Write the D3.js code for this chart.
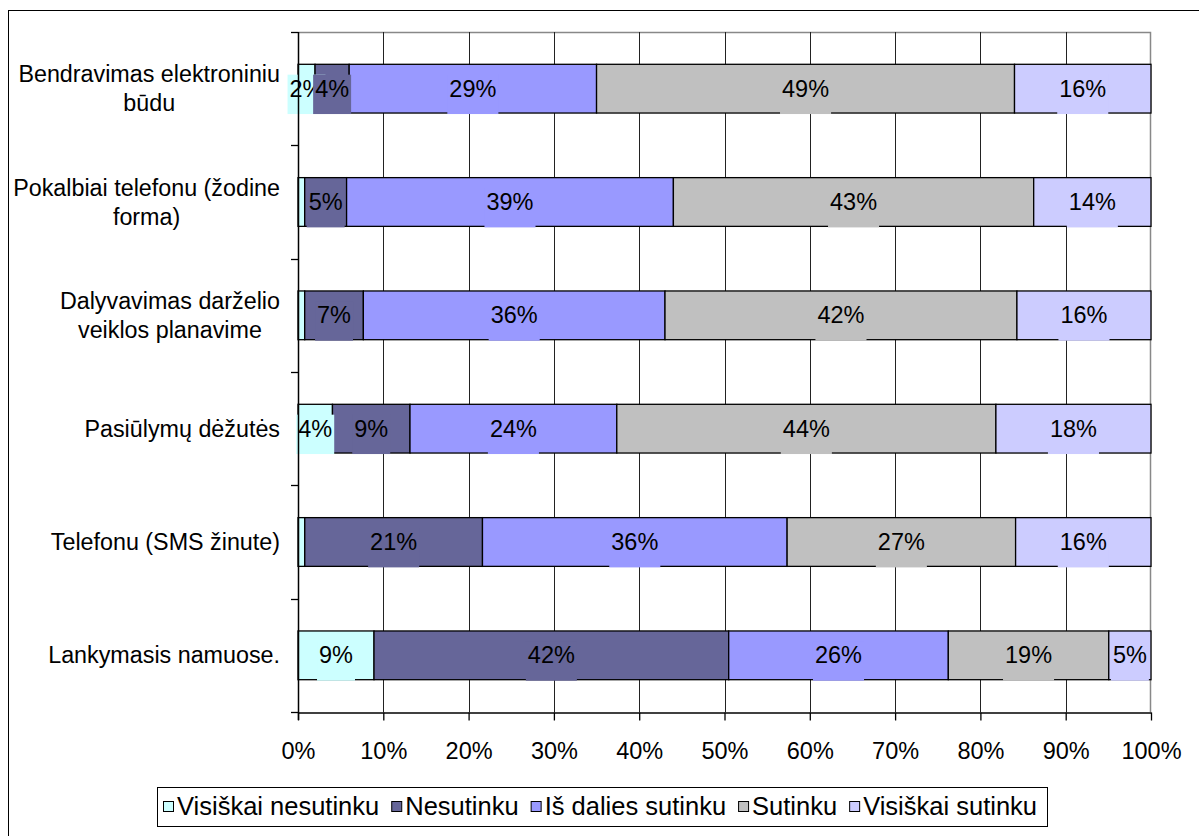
<!DOCTYPE html>
<html>
<head>
<meta charset="utf-8">
<script src="https://cdn.jsdelivr.net/npm/d3@7/dist/d3.min.js"></script>
<style>
  body { margin: 0; background: #fff; }
  svg text { font-family: "Liberation Sans", Arial, sans-serif; }
</style>
</head>
<body>
<svg id="chart" width="1199" height="836"></svg>
<script>
// ---- data ----
const categories = [
  ["Bendravimas elektroniniu", "būdu"],
  ["Pokalbiai telefonu (žodine", "forma)"],
  ["Dalyvavimas darželio", "veiklos planavime"],
  ["Pasiūlymų dėžutės"],
  ["Telefonu (SMS žinute)"],
  ["Lankymasis namuose."]
];
const seriesNames = ["Visiškai nesutinku", "Nesutinku", "Iš dalies sutinku", "Sutinku", "Visiškai sutinku"];
const seriesColors = ["#CCFFFF", "#666699", "#9999FF", "#C0C0C0", "#CCCCFF"];
const visiskaiNesutinku = [2, 0.8, 0.8, 4, 0.8, 9];
const nesutinku = [4, 5, 7, 9, 21, 42];
const isDaliesSutinku = [29, 39, 36, 24, 36, 26];
const sutinku = [49, 43, 42, 44, 27, 19];
const visiskaiSutinku = [16, 14, 16, 18, 16, 5];
// which small segments carry no data label
const showLabel = [
  [true, true, true, true, true],
  [false, true, true, true, true],
  [false, true, true, true, true],
  [true, true, true, true, true],
  [false, true, true, true, true],
  [true, true, true, true, true]
];
const xTicks = [0, 0.1, 0.2, 0.3, 0.4, 0.5, 0.6, 0.7, 0.8, 0.9, 1.0];

const seriesValues = [visiskaiNesutinku, nesutinku, isDaliesSutinku, sutinku, visiskaiSutinku];
const rows = categories.map((c, i) => {
  const r = { idx: i };
  seriesNames.forEach((s, k) => r[s] = seriesValues[k][i]);
  return r;
});

const FS = 23.5;

// ---- layout ----
const svg = d3.select("#chart");
const plot = { left: 298, right: 1151, top: 32, bottom: 712 };

// outer frame
svg.append("rect").attr("x", 8.5).attr("y", 10.5).attr("width", 1200).attr("height", 840)
  .attr("fill", "none").attr("stroke", "#000").attr("stroke-width", 1);

const x = d3.scaleLinear().domain([0, 1]).range([plot.left, plot.right]);
const y = d3.scaleBand().domain(d3.range(categories.length)).range([plot.top, plot.bottom])
  .paddingInner(0.57).paddingOuter(0.285);
const yOuter = d3.scaleBand().domain(d3.range(categories.length)).range([plot.top, plot.bottom]);

// plot frame (top & right gray)
svg.append("path")
  .attr("d", `M${plot.left},${plot.top + 0.5}H${plot.right - 0.5}V${plot.bottom}`)
  .attr("fill", "none").attr("stroke", "#888").attr("stroke-width", 1.5);

// gridlines
svg.append("g").selectAll("line").data(xTicks.slice(1, -1)).join("line")
  .attr("x1", d => Math.round(x(d)) + 0.5).attr("x2", d => Math.round(x(d)) + 0.5)
  .attr("y1", plot.top).attr("y2", plot.bottom)
  .attr("stroke", "#222").attr("stroke-width", 1);

// stacked bars (100% stacked)
const stack = d3.stack().keys(seriesNames).offset(d3.stackOffsetExpand);
const stacked = stack(rows);

const gBars = svg.append("g");
stacked.forEach((layer, k) => {
  gBars.append("g").selectAll("rect").data(layer).join("rect")
    .attr("x", d => x(d[0]))
    .attr("y", (d, i) => y(i))
    .attr("width", d => x(d[1]) - x(d[0]))
    .attr("height", y.bandwidth())
    .attr("fill", seriesColors[k])
    .attr("stroke", "#000").attr("stroke-width", 1.3);
});

// data labels
const gLab = svg.append("g");
stacked.forEach((layer, k) => {
  layer.forEach((d, i) => {
    if (!showLabel[i][k]) return;
    const cx = (x(d[0]) + x(d[1])) / 2;
    const cy = y(i) + y.bandwidth() / 2;
    const txt = seriesValues[k][i] + "%";
    const g = gLab.append("g");
    const bg = g.append("rect");
    const t = g.append("text").attr("x", cx).attr("y", cy + 8)
      .attr("text-anchor", "middle").attr("font-size", FS).attr("fill", "#000").text(txt);
    const w = t.node().getComputedTextLength();
    bg.attr("x", cx - w / 2 - 2).attr("y", cy - 14).attr("width", w + 4)
      .attr("height", y.bandwidth() / 2 + 15).attr("fill", seriesColors[k]);
  });
});

// y axis line + ticks at category boundaries
svg.append("line").attr("x1", plot.left + 0.5).attr("x2", plot.left + 0.5)
  .attr("y1", plot.top).attr("y2", plot.bottom + 8)
  .attr("stroke", "#000").attr("stroke-width", 1.5);
svg.append("g").selectAll("line").data(d3.range(categories.length + 1)).join("line")
  .attr("x1", plot.left - 7).attr("x2", plot.left)
  .attr("y1", i => Math.round(plot.top + i * yOuter.step()) + 0.5)
  .attr("y2", i => Math.round(plot.top + i * yOuter.step()) + 0.5)
  .attr("stroke", "#000").attr("stroke-width", 1.3);

// x axis
const xAxis = d3.axisBottom(x).tickValues(xTicks).tickFormat(d => Math.round(d * 100) + "%")
  .tickSize(8).tickSizeOuter(0);
const gx = svg.append("g").attr("transform", `translate(0,${plot.bottom + 0.5})`).call(xAxis);
gx.select(".domain").attr("stroke", "#000").attr("stroke-width", 1.5);
gx.selectAll(".tick line").attr("stroke", "#000").attr("stroke-width", 1.3);
gx.selectAll(".tick text").attr("font-size", FS).attr("font-family", "Liberation Sans, Arial, sans-serif")
  .attr("fill", "#000").attr("dy", "0").attr("y", 46);

// category labels
const gCat = svg.append("g");
categories.forEach((lines, i) => {
  const cy = y(i) + y.bandwidth() / 2;
  const lh = 29;
  const texts = lines.map((ln, j) => gCat.append("text")
    .attr("font-size", 23.3).attr("fill", "#000")
    .attr("y", cy + 8 + (j - (lines.length - 1) / 2) * lh).text(ln));
  const widths = texts.map(t => t.node().getComputedTextLength());
  const maxW = d3.max(widths);
  const rightEdge = 280;
  const center = rightEdge - maxW / 2;
  texts.forEach(t => t.attr("x", center).attr("text-anchor", "middle"));
});

// legend
const lg = svg.append("g");
lg.append("rect").attr("x", 157.5).attr("y", 787.5).attr("width", 890).attr("height", 39)
  .attr("fill", "#fff").attr("stroke", "#000").attr("stroke-width", 1);
let lx = 163;
seriesNames.forEach((s, k) => {
  lg.append("rect").attr("x", lx + 0.5).attr("y", 801.5).attr("width", 10).attr("height", 10)
    .attr("fill", seriesColors[k]).attr("stroke", "#000").attr("stroke-width", 1);
  const t = lg.append("text").attr("x", lx + 14).attr("y", 815).attr("font-size", 25.5)
    .attr("fill", "#000").text(s);
  lx += 14 + t.node().getComputedTextLength() + 12;
});
</script>
</body>
</html>
